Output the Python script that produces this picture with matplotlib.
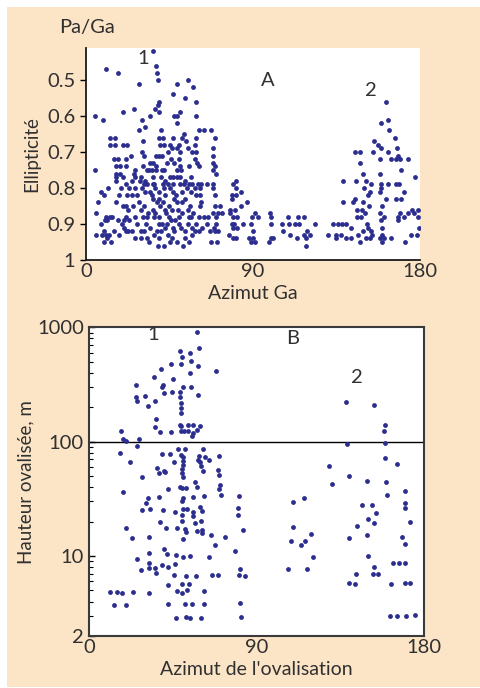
import matplotlib
matplotlib.use("Agg")
import matplotlib.pyplot as plt
from matplotlib.patches import Rectangle
from matplotlib.ticker import NullFormatter, LogLocator

# panel A : ellipticity vs azimuth Ga
az_a = [36.2, 37.6, 38.3, 38.7, 10.8, 17.1, 28.6, 49.1, 54.7, 57.8,
        46.6, 53.3, 59.4, 39.1, 38.5, 37.3, 39.4, 25.6, 19.6, 4.7,
        9.0, 34.2, 30.1, 50.8, 47.3, 49.1, 48.8, 59.0, 31.5, 28.3,
        60.7, 63.4, 67.3, 40.2, 52.7, 12.6, 15.3, 13.0, 15.7, 19.6,
        22.1, 30.6, 39.1, 41.6, 46.6, 51.7, 39.6, 42.0, 44.9, 50.1,
        53.7, 59.0, 69.5, 58.9, 24.0, 30.3, 31.0, 37.6, 39.1, 40.8,
        43.8, 46.2, 48.7, 50.8, 54.9, 56.9, 59.4, 68.6, 68.6, 4.7,
        15.1, 16.9, 21.2, 15.8, 18.1, 21.5, 16.2, 18.1, 26.4, 25.5,
        30.4, 32.5, 33.6, 29.5, 34.6, 36.2, 37.6, 35.4, 37.8, 40.8,
        42.1, 43.6, 45.7, 47.5, 49.9, 50.6, 48.7, 51.3, 55.6, 58.5,
        59.8, 60.7, 68.6, 69.3, 69.9, 68.3, 16.2, 20.0, 26.0, 28.7,
        31.4, 35.9, 40.4, 42.6, 45.1, 47.0, 48.9, 50.8, 53.5, 56.7,
        16.2, 24.8, 31.1, 32.8, 36.6, 41.6, 44.3, 46.6, 50.8, 52.5,
        55.2, 57.0, 60.5, 62.1, 65.0, 68.6, 80.5, 79.2, 21.5, 7.7,
        11.7, 18.5, 22.9, 26.0, 24.5, 27.2, 9.3, 15.8, 17.6, 21.9,
        30.1, 31.5, 34.4, 37.1, 39.4, 41.7, 42.7, 35.6, 39.1, 45.0,
        46.8, 48.4, 51.5, 54.2, 56.7, 58.7, 61.4, 59.2, 61.4, 68.6,
        69.3, 80.8, 83.2, 78.5, 81.0, 78.8, 86.6, 83.6, 6.2, 5.1,
        8.1, 10.5, 10.1, 12.6, 14.0, 11.3, 5.0, 8.4, 9.3, 10.5,
        12.4, 15.1, 17.6, 9.3, 11.3, 13.3, 17.3, 19.4, 20.1, 21.4,
        22.8, 20.4, 21.5, 22.6, 19.8, 21.5, 22.3, 25.0, 26.0, 28.2,
        29.5, 31.3, 32.7, 30.6, 32.2, 29.6, 31.3, 29.3, 32.5, 34.1,
        35.8, 36.0, 37.2, 36.4, 39.0, 39.4, 41.0, 37.9, 40.4, 39.2,
        42.0, 36.6, 41.2, 42.3, 44.8, 44.8, 45.7, 43.7, 46.5, 47.3,
        45.0, 48.7, 49.4, 51.5, 51.5, 50.1, 48.1, 50.1, 51.3, 49.1,
        52.4, 53.1, 54.9, 55.4, 56.5, 57.1, 54.9, 55.3, 58.9, 59.3,
        60.7, 61.4, 62.0, 62.2, 60.8, 65.0, 66.6, 67.2, 63.5, 65.8,
        68.6, 69.9, 69.7, 69.1, 69.5, 71.3, 70.3, 70.9, 73.2, 72.3,
        69.5, 77.5, 80.2, 77.5, 79.3, 81.1, 78.4, 79.8, 81.4, 84.7,
        79.3, 77.1, 78.9, 80.7, 88.6, 91.2, 89.2, 90.1, 87.6, 88.6,
        90.1, 91.2, 92.6, 99.0, 99.4, 99.4, 98.5, 99.8, 100.9, 105.6,
        106.3, 108.6, 109.2, 112.6, 114.8, 114.3, 117.2, 117.2, 118.3, 118.9,
        118.3, 120.6, 123.3, 109.9, 113.8, 130.3, 133.0, 135.5, 137.9, 140.2,
        134.9, 134.7, 137.6, 140.0, 142.9, 142.9, 146.5, 147.6, 149.0, 150.7,
        146.0, 148.3, 146.2, 148.7, 150.5, 151.2, 151.9, 153.4, 154.1, 153.2,
        158.2, 158.7, 160.7, 159.5, 159.3, 158.5, 159.5, 160.7, 164.2, 168.0,
        168.3, 169.3, 171.1, 173.3, 175.7, 176.8, 179.0, 179.0, 179.3, 178.3,
        175.3, 172.1, 145.1, 147.8, 154.9, 155.3, 157.1, 158.9, 158.2, 162.5,
        164.5, 166.6, 167.5, 168.4, 166.8, 169.0, 173.3, 158.7, 162.6, 163.1,
        161.5, 147.4, 149.0, 170.0, 158.2, 177.1, 138.5, 145.3, 150.7, 153.4,
        159.2, 162.5, 166.9, 168.7, 149.7, 151.8, 152.9, 158.5, 159.0, 171.1,
        161.4, 167.1, 170.0, 138.5, 145.1, 143.8, 149.5, 152.4, 159.7,
        38.0, 40.0, 43.0, 46.0, 47.5, 53.0, 56.0, 57.5, 44.0, 46.0,
        34.0, 38.5, 53.5, 57.0, 33.5, 27.5, 24.5, 26.5, 42.5, 36.0]
ell_a = [0.42, 0.46, 0.48, 0.50, 0.47, 0.48, 0.51, 0.51, 0.50, 0.52,
         0.54, 0.55, 0.56, 0.56, 0.57, 0.58, 0.59, 0.58, 0.59, 0.60,
         0.61, 0.60, 0.61, 0.59, 0.60, 0.60, 0.62, 0.60, 0.63, 0.64,
         0.64, 0.64, 0.64, 0.64, 0.65, 0.66, 0.66, 0.68, 0.68, 0.68,
         0.68, 0.67, 0.66, 0.66, 0.66, 0.66, 0.68, 0.68, 0.68, 0.68,
         0.67, 0.66, 0.66, 0.68, 0.71, 0.70, 0.71, 0.71, 0.71, 0.71,
         0.70, 0.69, 0.69, 0.70, 0.69, 0.70, 0.70, 0.69, 0.71, 0.75,
         0.72, 0.72, 0.72, 0.74, 0.74, 0.74, 0.76, 0.76, 0.75, 0.76,
         0.74, 0.75, 0.75, 0.77, 0.73, 0.73, 0.74, 0.75, 0.75, 0.75,
         0.75, 0.73, 0.72, 0.73, 0.72, 0.74, 0.75, 0.75, 0.74, 0.72,
         0.73, 0.74, 0.73, 0.74, 0.76, 0.75, 0.77, 0.77, 0.77, 0.78,
         0.78, 0.77, 0.77, 0.78, 0.77, 0.77, 0.77, 0.77, 0.78, 0.77,
         0.78, 0.78, 0.79, 0.79, 0.79, 0.79, 0.79, 0.79, 0.79, 0.79,
         0.79, 0.79, 0.79, 0.79, 0.79, 0.79, 0.78, 0.79, 0.79, 0.81,
         0.80, 0.80, 0.80, 0.80, 0.82, 0.82, 0.82, 0.84, 0.82, 0.82,
         0.80, 0.81, 0.81, 0.80, 0.81, 0.80, 0.82, 0.82, 0.83, 0.80,
         0.81, 0.82, 0.81, 0.80, 0.81, 0.80, 0.80, 0.82, 0.82, 0.80,
         0.82, 0.80, 0.81, 0.82, 0.82, 0.83, 0.84, 0.85, 0.84, 0.87,
         0.90, 0.88, 0.89, 0.88, 0.88, 0.89, 0.93, 0.93, 0.92, 0.93,
         0.93, 0.92, 0.93, 0.95, 0.94, 0.95, 0.89, 0.90, 0.89, 0.88,
         0.89, 0.91, 0.92, 0.92, 0.85, 0.85, 0.86, 0.85, 0.88, 0.84,
         0.86, 0.85, 0.88, 0.88, 0.90, 0.92, 0.92, 0.94, 0.94, 0.91,
         0.83, 0.86, 0.87, 0.88, 0.88, 0.90, 0.90, 0.92, 0.92, 0.94,
         0.96, 0.93, 0.84, 0.86, 0.85, 0.88, 0.89, 0.90, 0.91, 0.92,
         0.95, 0.84, 0.86, 0.84, 0.87, 0.88, 0.89, 0.90, 0.91, 0.95,
         0.96, 0.92, 0.86, 0.88, 0.88, 0.91, 0.90, 0.95, 0.92, 0.90,
         0.88, 0.85, 0.84, 0.91, 0.92, 0.90, 0.92, 0.95, 0.88, 0.88,
         0.87, 0.88, 0.90, 0.91, 0.92, 0.92, 0.95, 0.87, 0.87, 0.85,
         0.85, 0.86, 0.86, 0.87, 0.88, 0.88, 0.90, 0.90, 0.91, 0.90,
         0.91, 0.93, 0.94, 0.94, 0.90, 0.87, 0.88, 0.92, 0.94, 0.95,
         0.94, 0.95, 0.88, 0.87, 0.88, 0.90, 0.95, 0.94, 0.94, 0.90,
         0.92, 0.88, 0.90, 0.90, 0.90, 0.88, 0.88, 0.93, 0.94, 0.92,
         0.96, 0.93, 0.90, 0.93, 0.94, 0.93, 0.90, 0.90, 0.90, 0.90,
         0.93, 0.94, 0.93, 0.94, 0.94, 0.91, 0.93, 0.95, 0.92, 0.94,
         0.88, 0.88, 0.86, 0.86, 0.87, 0.90, 0.91, 0.92, 0.93, 0.94,
         0.87, 0.89, 0.88, 0.91, 0.93, 0.94, 0.95, 0.94, 0.94, 0.88,
         0.89, 0.87, 0.88, 0.87, 0.86, 0.87, 0.86, 0.88, 0.91, 0.93,
         0.93, 0.95, 0.70, 0.70, 0.70, 0.67, 0.68, 0.69, 0.72, 0.70,
         0.72, 0.66, 0.69, 0.71, 0.72, 0.72, 0.72, 0.62, 0.61, 0.64,
         0.56, 0.73, 0.76, 0.75, 0.76, 0.77, 0.78, 0.78, 0.78, 0.79,
         0.79, 0.79, 0.79, 0.79, 0.80, 0.82, 0.81, 0.81, 0.80, 0.81,
         0.83, 0.83, 0.83, 0.84, 0.83, 0.84, 0.84, 0.85, 0.85,
         0.84, 0.85, 0.87, 0.86, 0.83, 0.83, 0.85, 0.87, 0.93, 0.94,
         0.95, 0.96, 0.94, 0.93, 0.87, 0.90, 0.92, 0.94, 0.91, 0.79]

# panel B : ovalised height (m) vs azimuth of ovalisation
az_b = [57.9, 48.8, 49.8, 54.0, 58.8, 43.7, 49.1, 54.9, 58.3, 68.3,
        38.4, 34.6, 54.3, 24.9, 44.8, 39.6, 38.9, 50.6, 54.7, 40.0,
        44.6, 48.8, 24.9, 30.1, 25.8, 35.3, 31.4, 48.9, 58.6, 49.1,
        49.5, 49.1, 35.9, 48.8, 35.1, 38.0, 44.1, 49.1, 49.3, 52.9,
        55.9, 59.7, 58.1, 55.9, 55.2, 53.1, 50.7, 16.9, 138.2, 153.1,
        159.2, 158.3, 17.9, 19.5, 26.9, 25.6, 16.3, 22.1, 28.5, 18.3,
        19.5, 22.8, 11.3, 14.9, 17.6, 23.7, 13.4, 19.9, 32.3, 25.8,
        27.6, 28.5, 30.7, 31.6, 32.6, 32.3, 32.0, 32.3, 32.3, 35.1,
        35.9, 36.4, 37.3, 40.2, 40.9, 38.9, 43.6, 45.7, 47.9, 51.6,
        61.3, 49.3, 50.2, 50.2, 50.6, 50.0, 49.7, 50.4, 49.0, 50.0,
        52.0, 57.0, 57.7, 59.0, 58.4, 59.5, 60.2, 61.3, 62.0, 64.4,
        70.0, 69.4, 69.5, 70.3, 69.5, 70.6, 42.3, 37.7, 50.2, 55.9,
        61.9, 50.0, 59.7, 50.4, 52.5, 46.3, 55.6, 60.6, 39.8, 49.8,
        55.9, 49.7, 57.0, 60.2, 38.0, 41.1, 47.0, 51.5, 51.9, 58.1,
        60.4, 60.6, 50.2, 65.4, 72.8, 67.6, 78.5, 40.3, 42.0, 46.6,
        50.2, 54.3, 64.2, 39.3, 42.3, 46.3, 45.7, 52.2, 57.2, 66.0,
        69.0, 42.3, 49.7, 53.4, 52.5, 47.2, 49.9, 61.5, 42.1, 51.5,
        55.0, 61.5, 46.6, 51.8, 54.3, 59.9, 80.3, 79.8, 79.8, 82.8,
        81.0, 80.3, 83.6, 81.0, 81.4, 107.0, 109.4, 109.6, 108.3, 113.7,
        116.0, 115.7, 119.4, 120.5, 116.9, 128.9, 130.7, 138.6, 139.7, 139.7,
        139.9, 142.7, 143.6, 144.2, 146.7, 149.5, 149.5, 149.9, 152.0, 153.1,
        154.2, 150.1, 153.3, 152.4, 155.1, 159.0, 158.9, 159.4, 160.0, 165.3,
        169.6, 170.0, 170.0, 172.3, 168.0, 170.0, 163.2, 166.4, 170.0, 162.1,
        169.6, 172.3, 161.7, 165.7, 170.5, 175.0]
h_b = [904, 621, 547, 593, 655, 478, 478, 508, 462, 415,
       429, 371, 396, 315, 356, 315, 303, 301, 299, 268,
       274, 272, 248, 249, 227, 227, 207, 244, 254, 216,
       196, 179, 158, 139, 134, 122, 122, 124, 137, 140,
       140, 138, 126, 120, 111, 124, 124, 124, 221, 209,
       140, 124, 105, 101, 105, 91, 79, 67, 49, 36,
       17.5, 14.5, 4.85, 4.82, 4.75, 4.85, 3.73, 3.76, 4.75, 9.5,
       7.55, 25.3, 28.9, 32, 25.9, 14.8, 10.6, 8.75, 7.9, 7.9,
       7.06, 58.5, 53.6, 55, 54.3, 77.4, 77.4, 66.4, 86.9, 85.8,
       86.9, 76.6, 73, 68.2, 63, 57.3, 52.8, 48.8, 40.2, 39.6,
       39.6, 44.7, 40.2, 75.5, 69.2, 66.4, 61.2, 55.8, 74, 68.7,
       75.5, 56.5, 51.2, 41.5, 38.5, 34.4, 38.3, 33, 32.4, 33,
       33.7, 30.5, 27, 25.8, 25.8, 24.1, 24.3, 24.8, 25.3, 23,
       22.4, 20.4, 19.6, 20.1, 19.7, 17.7, 17.5, 17.1, 16.1, 16.5,
       16, 16.9, 14.2, 15.4, 14.6, 12.4, 11.1, 11.6, 10.5, 10.2,
       9.75, 9.95, 9.8, 8.4, 8, 8.6, 6.78, 6.73, 6.65, 6.82,
       6.87, 5.58, 5.66, 5.7, 5.08, 4.92, 4.72, 4.92, 3.84, 3.84,
       3.81, 3.81, 2.89, 2.95, 2.85, 2.85, 33.5, 26.1, 22.9, 16.9,
       7.76, 6.78, 6.73, 3.86, 2.91, 7.66, 29.9, 17.9, 13.6, 12.4,
       13.5, 32, 15.5, 9.8, 7.76, 61.7, 42.9, 95.5, 50.5, 14.5,
       5.85, 5.73, 6.97, 18.3, 28.1, 45.3, 15.3, 21.1, 27.7, 19.3,
       23.9, 10, 8.07, 6.92, 6.92, 96.8, 72, 44.4, 34.2, 64.3,
       37.1, 29.3, 26.1, 20, 14.8, 12.8, 8.75, 8.75, 8.75, 5.7,
       5.85, 5.85, 3.01, 3.01, 3.01, 3.05]

ell_ticks = [0.5, 0.6, 0.7, 0.8, 0.9, 1.0]
ell_labels = ['0.5', '0.6', '0.7', '0.8', '0.9', '1']
h_ticks = [2, 10, 100, 1000]
h_labels = ['2', '10', '100', '1000']
az_ticks = [0, 90, 180]

PEACH = '#fce4c6'
DOT = '#2b2d8f'
TXT = '#303030'
FS = 13.5    # axis titles
TFS = 14.5   # tick labels

plt.rcParams['font.family'] = ['Lato', 'DejaVu Sans']
plt.rcParams['font.weight'] = 'normal'

fig = plt.figure(figsize=(4.81, 6.88), dpi=100)
fig.patch.set_facecolor('white')
fig.add_artist(Rectangle((7 / 481, 1 / 688), 474 / 481, 680 / 688,
                         transform=fig.transFigure, facecolor=PEACH,
                         edgecolor='none', zorder=-10))

# --- panel A
ax = fig.add_axes([86.3 / 481, 1 - 260 / 688, 333.7 / 481, 212.3 / 688])
ax.scatter(az_a, ell_a, s=12, color=DOT, linewidths=0, zorder=3)
ax.set_xlim(0, 180)
ax.set_ylim(1.0, 0.41)
ax.set_yticks(ell_ticks)
ax.set_yticklabels(ell_labels)
ax.set_xticks(az_ticks)
ax.spines['top'].set_visible(False)
ax.spines['right'].set_visible(False)
for s in ('left', 'bottom'):
    ax.spines[s].set_color('#1a1a1a')
    ax.spines[s].set_linewidth(1.3)
ax.tick_params(axis='y', direction='out', length=4, width=1, pad=4,
               labelsize=TFS, labelcolor=TXT)
ax.tick_params(axis='x', length=0, pad=2, labelsize=TFS, labelcolor=TXT)
ax.set_xlabel('Azimut Ga', fontsize=FS + 0.5, color=TXT, labelpad=4)
ax.set_ylabel('Ellipticité', fontsize=FS, color=TXT, labelpad=5)
ax.text(30.8, 0.44, '1', fontsize=TFS, color=TXT, ha='center', va='center')
ax.text(97.9, 0.50, 'A', fontsize=TFS, color=TXT, ha='center', va='center')
ax.text(153.5, 0.53, '2', fontsize=TFS, color=TXT, ha='center', va='center')
fig.text(87 / 481, 1 - 28 / 688, 'Pa/Ga', fontsize=TFS, color=TXT,
         ha='center', va='center')

# --- panel B
bx = fig.add_axes([89.3 / 481, 1 - 636 / 688, 334.7 / 481, 308.7 / 688])
bx.scatter(az_b, h_b, s=12, color=DOT, linewidths=0, zorder=3)
bx.set_yscale('log')
bx.set_xlim(0, 180)
bx.set_ylim(2, 1000)
bx.axhline(100, color='black', linewidth=1, zorder=2)
bx.set_yticks(h_ticks)
bx.set_yticklabels(h_labels)
bx.yaxis.set_minor_locator(LogLocator(base=10, subs=range(2, 10)))
bx.yaxis.set_minor_formatter(NullFormatter())
bx.set_xticks(az_ticks)
for s in bx.spines.values():
    s.set_color('#3a3a3a')
    s.set_linewidth(1.5)
bx.tick_params(axis='y', which='major', direction='in', length=4, width=1,
               pad=4, labelsize=TFS, labelcolor=TXT)
bx.tick_params(axis='y', which='minor', direction='in', length=3, width=0.8)
bx.tick_params(axis='x', length=0, pad=2, labelsize=TFS, labelcolor=TXT)
bx.set_xlabel("Azimut de l'ovalisation", fontsize=FS + 0.5, color=TXT,
              labelpad=4)
bx.set_ylabel('Hauteur ovalisée, m', fontsize=FS, color=TXT, labelpad=2)
bx.text(34.4, 857, '1', fontsize=TFS, color=TXT, ha='center', va='center')
bx.text(109.4, 802, 'B', fontsize=TFS, color=TXT, ha='center', va='center')
bx.text(143.8, 366, '2', fontsize=TFS, color=TXT, ha='center', va='center')

fig.savefig('out.png', dpi=100, facecolor=fig.get_facecolor())
